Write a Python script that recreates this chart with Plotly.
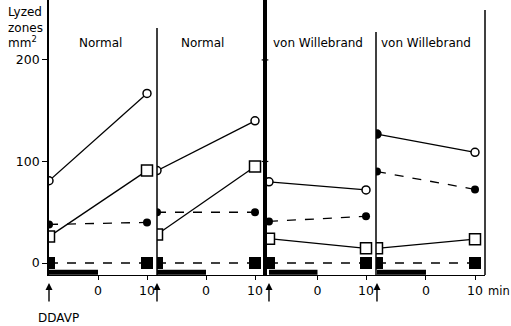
import plotly.graph_objects as go

# ---- data ----
time = [-10, 10]                 # min (DDAVP start -> 10 min)
infusion = [-10, 0]              # DDAVP infusion period
panel_titles = ["Normal", "Normal", "von Willebrand", "von Willebrand"]
open_circle = [[81, 167], [91, 140], [80, 72], [127, 109]]
open_square = [[26, 91], [28, 95], [24, 14.5], [14.5, 23.5]]
filled_circle = [[38, 40], [50, 50], [41, 46], [90, 72.5]]
filled_square = [[0, 0], [0, 0], [0, 0], [0, 0]]
y_ticks = [0, 100, 200]
x_ticks = [0, 10]
x_ticktext = ["0", "10"]

W, H = 511, 326
FONT = "DejaVu Sans"

def px(x):
    return x / W

def py(y):
    return 1 - y / H

# panel layout (pixels) and axis ranges
domains = [(49, 157), (157, 265), (265, 376), (376, 485)]
ranges = [(-10, 12.04), (-10, 12.04), (-10.82, 12.06), (-10.2, 12.04)]
y_range = [-11.8, 259]
y_dom = [py(275), 1]

fig = go.Figure()

for i in range(4):
    xa = "x" if i == 0 else f"x{i+1}"
    common = dict(xaxis=xa, yaxis="y", showlegend=False, hoverinfo="skip")
    # infusion bar
    fig.add_trace(go.Scatter(x=infusion, y=[-9, -9], mode="lines",
                             line=dict(color="black", width=5), **common))
    # filled square (dashed)
    fig.add_trace(go.Scatter(x=time, y=filled_square[i], mode="lines+markers",
                             line=dict(color="black", width=1.3, dash="dash"),
                             marker=dict(symbol="square", size=12, color="black"),
                             **common))
    # filled circle (dashed)
    fig.add_trace(go.Scatter(x=time, y=filled_circle[i], mode="lines+markers",
                             line=dict(color="black", width=1.3, dash="dash"),
                             marker=dict(symbol="circle", size=8, color="black"),
                             **common))
    # open square
    fig.add_trace(go.Scatter(x=time, y=open_square[i], mode="lines+markers",
                             line=dict(color="black", width=1.3),
                             marker=dict(symbol="square", size=11, color="white",
                                         line=dict(color="black", width=1.5)),
                             **common))
    # open circle
    oc_fill = ["black", "white"] if i == 3 else ["white", "white"]
    fig.add_trace(go.Scatter(x=time, y=open_circle[i], mode="lines+markers",
                             line=dict(color="black", width=1.3),
                             marker=dict(symbol="circle", size=8, color=oc_fill,
                                         line=dict(color="black", width=1.5)),
                             **common))

layout = dict(
    width=W, height=H,
    margin=dict(l=0, r=0, t=0, b=0),
    paper_bgcolor="white", plot_bgcolor="white",
    font=dict(family=FONT, size=12, color="black"),
    yaxis=dict(domain=y_dom, range=y_range, anchor="x",
               showline=True, linecolor="black", linewidth=1.6,
               ticks="outside", ticklen=5, tickwidth=1.3, tickcolor="black",
               tickvals=y_ticks, showgrid=False, zeroline=False,
               tickfont=dict(family=FONT, size=12.5, color="black")),
)
for i in range(4):
    key = "xaxis" if i == 0 else f"xaxis{i+1}"
    layout[key] = dict(domain=[px(domains[i][0]), px(domains[i][1])],
                       range=list(ranges[i]), anchor="y",
                       showline=True, linecolor="black", linewidth=1.4,
                       ticks="outside", ticklen=4, tickwidth=1.2, tickcolor="black",
                       tickvals=x_ticks, ticktext=list(x_ticktext),
                       showgrid=False, zeroline=False,
                       tickfont=dict(family=FONT, size=12.5, color="black"))
fig.update_layout(**layout)

shapes = []
def vline(xref, x, y0px, y1px, w):
    shapes.append(dict(type="line", xref=xref, yref="paper", x0=x, x1=x,
                       y0=py(y1px), y1=py(y0px),
                       line=dict(color="black", width=w)))

vline("x2 domain", 0, 28, 275, 1.5)
vline("x3 domain", 0, 0, 275, 4)
vline("x4 domain", 0, 32, 275, 1.5)
vline("x4 domain", 1, 10, 275, 1.5)
# small ticks on thick separator
for v in [100, 200]:
    shapes.append(dict(type="line", xref="x3 domain", yref="y",
                       x0=-0.03, x1=0.03, y0=v, y1=v,
                       line=dict(color="black", width=1.2)))
fig.update_layout(shapes=shapes)

ann = []
title_x = [100, 202, 318, 426]
for i in range(4):
    ann.append(dict(text=panel_titles[i], xref="paper", yref="paper",
                    x=px(title_x[i]), y=py(43), xanchor="center", yanchor="middle",
                    showarrow=False, font=dict(family=FONT, size=12, color="black")))
    xa = "x" if i == 0 else f"x{i+1}"
    ann.append(dict(text="", xref=xa, yref="paper", x=time[0], y=py(283),
                    ax=0, ay=20, axref="pixel", ayref="pixel",
                    showarrow=True, arrowhead=2, arrowsize=1, arrowwidth=1.4,
                    arrowcolor="black"))
ann.append(dict(text="Lyzed<br>zones<br>mm<sup>2</sup>", xref="paper", yref="paper",
                x=px(6), y=py(3), xanchor="left", yanchor="top", align="left",
                showarrow=False, font=dict(family=FONT, size=12, color="black")))
ann.append(dict(text="min", xref="paper", yref="paper", x=px(486), y=py(291),
                xanchor="left", yanchor="middle", showarrow=False,
                font=dict(family=FONT, size=11.5, color="black")))
ann.append(dict(text="DDAVP", xref="paper", yref="paper", x=px(58), y=py(318),
                xanchor="center", yanchor="middle", showarrow=False,
                font=dict(family=FONT, size=12, color="black")))
fig.update_layout(annotations=ann)

fig.write_html("out.html",
               config={"displayModeBar": False},
               post_script="document.body.style.margin='0';"
                           "document.body.style.overflow='hidden';")
